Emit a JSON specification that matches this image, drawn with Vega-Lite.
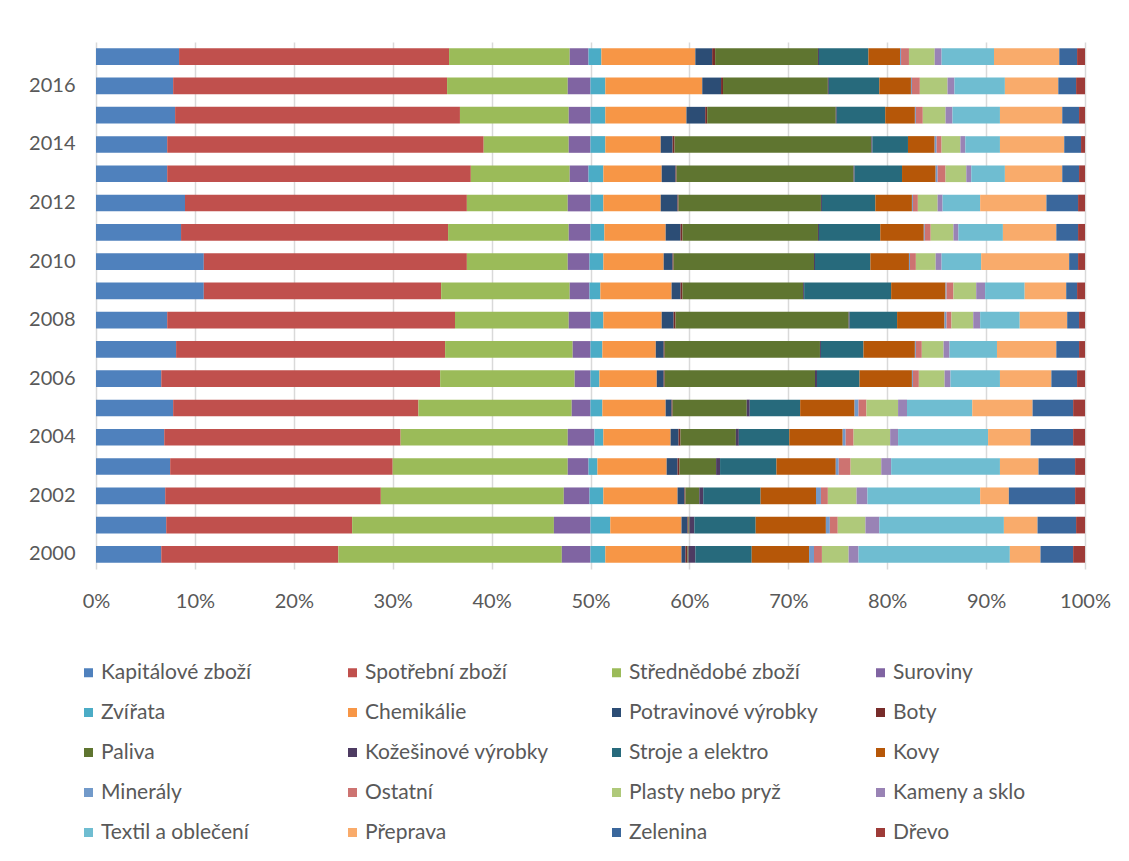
{
  "$schema": "https://vega.github.io/schema/vega-lite/v6.json",
  "width": 989,
  "height": 527,
  "autosize": {"type": "none"},
  "padding": {"left": 96, "top": 42, "right": 44, "bottom": 292},
  "background": "white",
  "config": {
    "font": "Lato",
    "view": {"stroke": null},
    "axis": {"labelColor": "#595959", "labelFont": "Lato", "labelFontSize": 20}
  },
  "data": {
    "values": [
{"y":2000,"c":"Kapitálové zboží","v":6.6},{"y":2000,"c":"Spotřební zboží","v":17.9},{"y":2000,"c":"Střednědobé zboží","v":22.6},{"y":2000,"c":"Suroviny","v":2.9},{"y":2000,"c":"Zvířata","v":1.5},{"y":2000,"c":"Chemikálie","v":7.7},{"y":2000,"c":"Potravinové výrobky","v":0.4},{"y":2000,"c":"Boty","v":0.2},{"y":2000,"c":"Paliva","v":0.1},{"y":2000,"c":"Kožešinové výrobky","v":0.7},{"y":2000,"c":"Stroje a elektro","v":5.7},{"y":2000,"c":"Kovy","v":5.8},{"y":2000,"c":"Minerály","v":0.5},{"y":2000,"c":"Ostatní","v":0.8},{"y":2000,"c":"Plasty nebo pryž","v":2.7},{"y":2000,"c":"Kameny a sklo","v":1.0},{"y":2000,"c":"Textil a oblečení","v":15.3},{"y":2000,"c":"Přeprava","v":3.1},{"y":2000,"c":"Zelenina","v":3.3},{"y":2000,"c":"Dřevo","v":1.2},
{"y":2001,"c":"Kapitálové zboží","v":7.1},{"y":2001,"c":"Spotřební zboží","v":18.8},{"y":2001,"c":"Střednědobé zboží","v":20.4},{"y":2001,"c":"Suroviny","v":3.7},{"y":2001,"c":"Zvířata","v":2.0},{"y":2001,"c":"Chemikálie","v":7.2},{"y":2001,"c":"Potravinové výrobky","v":0.6},{"y":2001,"c":"Boty","v":0.1},{"y":2001,"c":"Paliva","v":0.1},{"y":2001,"c":"Kožešinové výrobky","v":0.5},{"y":2001,"c":"Stroje a elektro","v":6.2},{"y":2001,"c":"Kovy","v":7.1},{"y":2001,"c":"Minerály","v":0.4},{"y":2001,"c":"Ostatní","v":0.8},{"y":2001,"c":"Plasty nebo pryž","v":2.8},{"y":2001,"c":"Kameny a sklo","v":1.4},{"y":2001,"c":"Textil a oblečení","v":12.6},{"y":2001,"c":"Přeprava","v":3.4},{"y":2001,"c":"Zelenina","v":3.9},{"y":2001,"c":"Dřevo","v":0.9},
{"y":2002,"c":"Kapitálové zboží","v":7.0},{"y":2002,"c":"Spotřební zboží","v":21.8},{"y":2002,"c":"Střednědobé zboží","v":18.5},{"y":2002,"c":"Suroviny","v":2.6},{"y":2002,"c":"Zvířata","v":1.4},{"y":2002,"c":"Chemikálie","v":7.5},{"y":2002,"c":"Potravinové výrobky","v":0.7},{"y":2002,"c":"Boty","v":0.1},{"y":2002,"c":"Paliva","v":1.4},{"y":2002,"c":"Kožešinové výrobky","v":0.4},{"y":2002,"c":"Stroje a elektro","v":5.8},{"y":2002,"c":"Kovy","v":5.6},{"y":2002,"c":"Minerály","v":0.5},{"y":2002,"c":"Ostatní","v":0.7},{"y":2002,"c":"Plasty nebo pryž","v":2.9},{"y":2002,"c":"Kameny a sklo","v":1.1},{"y":2002,"c":"Textil a oblečení","v":11.4},{"y":2002,"c":"Přeprava","v":2.9},{"y":2002,"c":"Zelenina","v":6.7},{"y":2002,"c":"Dřevo","v":1.0},
{"y":2003,"c":"Kapitálové zboží","v":7.5},{"y":2003,"c":"Spotřební zboží","v":22.5},{"y":2003,"c":"Střednědobé zboží","v":17.7},{"y":2003,"c":"Suroviny","v":2.1},{"y":2003,"c":"Zvířata","v":0.9},{"y":2003,"c":"Chemikálie","v":7.0},{"y":2003,"c":"Potravinové výrobky","v":1.1},{"y":2003,"c":"Boty","v":0.2},{"y":2003,"c":"Paliva","v":3.7},{"y":2003,"c":"Kožešinové výrobky","v":0.4},{"y":2003,"c":"Stroje a elektro","v":5.7},{"y":2003,"c":"Kovy","v":6.0},{"y":2003,"c":"Minerály","v":0.3},{"y":2003,"c":"Ostatní","v":1.2},{"y":2003,"c":"Plasty nebo pryž","v":3.1},{"y":2003,"c":"Kameny a sklo","v":1.0},{"y":2003,"c":"Textil a oblečení","v":11.0},{"y":2003,"c":"Přeprava","v":3.9},{"y":2003,"c":"Zelenina","v":3.7},{"y":2003,"c":"Dřevo","v":1.0},
{"y":2004,"c":"Kapitálové zboží","v":6.9},{"y":2004,"c":"Spotřební zboží","v":23.9},{"y":2004,"c":"Střednědobé zboží","v":16.9},{"y":2004,"c":"Suroviny","v":2.7},{"y":2004,"c":"Zvířata","v":0.9},{"y":2004,"c":"Chemikálie","v":6.8},{"y":2004,"c":"Potravinové výrobky","v":0.8},{"y":2004,"c":"Boty","v":0.2},{"y":2004,"c":"Paliva","v":5.6},{"y":2004,"c":"Kožešinové výrobky","v":0.3},{"y":2004,"c":"Stroje a elektro","v":5.1},{"y":2004,"c":"Kovy","v":5.4},{"y":2004,"c":"Minerály","v":0.3},{"y":2004,"c":"Ostatní","v":0.8},{"y":2004,"c":"Plasty nebo pryž","v":3.7},{"y":2004,"c":"Kameny a sklo","v":0.8},{"y":2004,"c":"Textil a oblečení","v":9.1},{"y":2004,"c":"Přeprava","v":4.3},{"y":2004,"c":"Zelenina","v":4.3},{"y":2004,"c":"Dřevo","v":1.2},
{"y":2005,"c":"Kapitálové zboží","v":7.8},{"y":2005,"c":"Spotřební zboží","v":24.8},{"y":2005,"c":"Střednědobé zboží","v":15.5},{"y":2005,"c":"Suroviny","v":1.9},{"y":2005,"c":"Zvířata","v":1.2},{"y":2005,"c":"Chemikálie","v":6.4},{"y":2005,"c":"Potravinové výrobky","v":0.6},{"y":2005,"c":"Boty","v":0.1},{"y":2005,"c":"Paliva","v":7.5},{"y":2005,"c":"Kožešinové výrobky","v":0.3},{"y":2005,"c":"Stroje a elektro","v":5.1},{"y":2005,"c":"Kovy","v":5.5},{"y":2005,"c":"Minerály","v":0.4},{"y":2005,"c":"Ostatní","v":0.8},{"y":2005,"c":"Plasty nebo pryž","v":3.2},{"y":2005,"c":"Kameny a sklo","v":0.9},{"y":2005,"c":"Textil a oblečení","v":6.6},{"y":2005,"c":"Přeprava","v":6.1},{"y":2005,"c":"Zelenina","v":4.1},{"y":2005,"c":"Dřevo","v":1.2},
{"y":2006,"c":"Kapitálové zboží","v":6.6},{"y":2006,"c":"Spotřební zboží","v":28.2},{"y":2006,"c":"Střednědobé zboží","v":13.6},{"y":2006,"c":"Suroviny","v":1.6},{"y":2006,"c":"Zvířata","v":0.9},{"y":2006,"c":"Chemikálie","v":5.8},{"y":2006,"c":"Potravinové výrobky","v":0.7},{"y":2006,"c":"Boty","v":0.1},{"y":2006,"c":"Paliva","v":15.2},{"y":2006,"c":"Kožešinové výrobky","v":0.2},{"y":2006,"c":"Stroje a elektro","v":4.3},{"y":2006,"c":"Kovy","v":5.3},{"y":2006,"c":"Minerály","v":0.1},{"y":2006,"c":"Ostatní","v":0.6},{"y":2006,"c":"Plasty nebo pryž","v":2.6},{"y":2006,"c":"Kameny a sklo","v":0.6},{"y":2006,"c":"Textil a oblečení","v":5.0},{"y":2006,"c":"Přeprava","v":5.2},{"y":2006,"c":"Zelenina","v":2.6},{"y":2006,"c":"Dřevo","v":0.8},
{"y":2007,"c":"Kapitálové zboží","v":8.1},{"y":2007,"c":"Spotřební zboží","v":27.2},{"y":2007,"c":"Střednědobé zboží","v":12.9},{"y":2007,"c":"Suroviny","v":1.8},{"y":2007,"c":"Zvířata","v":1.2},{"y":2007,"c":"Chemikálie","v":5.4},{"y":2007,"c":"Potravinové výrobky","v":0.8},{"y":2007,"c":"Boty","v":0.1},{"y":2007,"c":"Paliva","v":15.7},{"y":2007,"c":"Kožešinové výrobky","v":0.1},{"y":2007,"c":"Stroje a elektro","v":4.3},{"y":2007,"c":"Kovy","v":5.2},{"y":2007,"c":"Minerály","v":0.1},{"y":2007,"c":"Ostatní","v":0.6},{"y":2007,"c":"Plasty nebo pryž","v":2.2},{"y":2007,"c":"Kameny a sklo","v":0.6},{"y":2007,"c":"Textil a oblečení","v":4.8},{"y":2007,"c":"Přeprava","v":6.0},{"y":2007,"c":"Zelenina","v":2.3},{"y":2007,"c":"Dřevo","v":0.6},
{"y":2008,"c":"Kapitálové zboží","v":7.2},{"y":2008,"c":"Spotřební zboží","v":29.1},{"y":2008,"c":"Střednědobé zboží","v":11.5},{"y":2008,"c":"Suroviny","v":2.2},{"y":2008,"c":"Zvířata","v":1.3},{"y":2008,"c":"Chemikálie","v":5.9},{"y":2008,"c":"Potravinové výrobky","v":1.2},{"y":2008,"c":"Boty","v":0.2},{"y":2008,"c":"Paliva","v":17.5},{"y":2008,"c":"Kožešinové výrobky","v":0.1},{"y":2008,"c":"Stroje a elektro","v":4.8},{"y":2008,"c":"Kovy","v":4.8},{"y":2008,"c":"Minerály","v":0.2},{"y":2008,"c":"Ostatní","v":0.5},{"y":2008,"c":"Plasty nebo pryž","v":2.2},{"y":2008,"c":"Kameny a sklo","v":0.7},{"y":2008,"c":"Textil a oblečení","v":4.0},{"y":2008,"c":"Přeprava","v":4.8},{"y":2008,"c":"Zelenina","v":1.2},{"y":2008,"c":"Dřevo","v":0.6},
{"y":2009,"c":"Kapitálové zboží","v":10.9},{"y":2009,"c":"Spotřební zboží","v":24.0},{"y":2009,"c":"Střednědobé zboží","v":13.0},{"y":2009,"c":"Suroviny","v":2.0},{"y":2009,"c":"Zvířata","v":1.1},{"y":2009,"c":"Chemikálie","v":7.2},{"y":2009,"c":"Potravinové výrobky","v":0.9},{"y":2009,"c":"Boty","v":0.2},{"y":2009,"c":"Paliva","v":12.2},{"y":2009,"c":"Kožešinové výrobky","v":0.1},{"y":2009,"c":"Stroje a elektro","v":8.8},{"y":2009,"c":"Kovy","v":5.5},{"y":2009,"c":"Minerály","v":0.1},{"y":2009,"c":"Ostatní","v":0.7},{"y":2009,"c":"Plasty nebo pryž","v":2.3},{"y":2009,"c":"Kameny a sklo","v":0.9},{"y":2009,"c":"Textil a oblečení","v":4.0},{"y":2009,"c":"Přeprava","v":4.2},{"y":2009,"c":"Zelenina","v":1.1},{"y":2009,"c":"Dřevo","v":0.8},
{"y":2010,"c":"Kapitálové zboží","v":10.9},{"y":2010,"c":"Spotřební zboží","v":26.6},{"y":2010,"c":"Střednědobé zboží","v":10.2},{"y":2010,"c":"Suroviny","v":2.2},{"y":2010,"c":"Zvířata","v":1.4},{"y":2010,"c":"Chemikálie","v":6.1},{"y":2010,"c":"Potravinové výrobky","v":0.9},{"y":2010,"c":"Boty","v":0.1},{"y":2010,"c":"Paliva","v":14.2},{"y":2010,"c":"Kožešinové výrobky","v":0.1},{"y":2010,"c":"Stroje a elektro","v":5.6},{"y":2010,"c":"Kovy","v":3.9},{"y":2010,"c":"Minerály","v":0.1},{"y":2010,"c":"Ostatní","v":0.6},{"y":2010,"c":"Plasty nebo pryž","v":2.0},{"y":2010,"c":"Kameny a sklo","v":0.6},{"y":2010,"c":"Textil a oblečení","v":4.0},{"y":2010,"c":"Přeprava","v":8.9},{"y":2010,"c":"Zelenina","v":0.9},{"y":2010,"c":"Dřevo","v":0.7},
{"y":2011,"c":"Kapitálové zboží","v":8.6},{"y":2011,"c":"Spotřební zboží","v":27.0},{"y":2011,"c":"Střednědobé zboží","v":12.2},{"y":2011,"c":"Suroviny","v":2.2},{"y":2011,"c":"Zvířata","v":1.4},{"y":2011,"c":"Chemikálie","v":6.2},{"y":2011,"c":"Potravinové výrobky","v":1.5},{"y":2011,"c":"Boty","v":0.2},{"y":2011,"c":"Paliva","v":13.7},{"y":2011,"c":"Kožešinové výrobky","v":0.1},{"y":2011,"c":"Stroje a elektro","v":6.2},{"y":2011,"c":"Kovy","v":4.4},{"y":2011,"c":"Minerály","v":0.1},{"y":2011,"c":"Ostatní","v":0.6},{"y":2011,"c":"Plasty nebo pryž","v":2.3},{"y":2011,"c":"Kameny a sklo","v":0.5},{"y":2011,"c":"Textil a oblečení","v":4.5},{"y":2011,"c":"Přeprava","v":5.4},{"y":2011,"c":"Zelenina","v":2.2},{"y":2011,"c":"Dřevo","v":0.7},
{"y":2012,"c":"Kapitálové zboží","v":9.0},{"y":2012,"c":"Spotřební zboží","v":28.5},{"y":2012,"c":"Střednědobé zboží","v":10.2},{"y":2012,"c":"Suroviny","v":2.3},{"y":2012,"c":"Zvířata","v":1.3},{"y":2012,"c":"Chemikálie","v":5.8},{"y":2012,"c":"Potravinové výrobky","v":1.7},{"y":2012,"c":"Boty","v":0.1},{"y":2012,"c":"Paliva","v":14.4},{"y":2012,"c":"Kožešinové výrobky","v":0.1},{"y":2012,"c":"Stroje a elektro","v":5.4},{"y":2012,"c":"Kovy","v":3.7},{"y":2012,"c":"Minerály","v":0.1},{"y":2012,"c":"Ostatní","v":0.5},{"y":2012,"c":"Plasty nebo pryž","v":2.0},{"y":2012,"c":"Kameny a sklo","v":0.5},{"y":2012,"c":"Textil a oblečení","v":3.8},{"y":2012,"c":"Přeprava","v":6.7},{"y":2012,"c":"Zelenina","v":3.2},{"y":2012,"c":"Dřevo","v":0.7},
{"y":2013,"c":"Kapitálové zboží","v":7.2},{"y":2013,"c":"Spotřební zboží","v":30.7},{"y":2013,"c":"Střednědobé zboží","v":10.0},{"y":2013,"c":"Suroviny","v":1.9},{"y":2013,"c":"Zvířata","v":1.5},{"y":2013,"c":"Chemikálie","v":5.9},{"y":2013,"c":"Potravinové výrobky","v":1.4},{"y":2013,"c":"Boty","v":0.1},{"y":2013,"c":"Paliva","v":17.9},{"y":2013,"c":"Kožešinové výrobky","v":0.1},{"y":2013,"c":"Stroje a elektro","v":4.8},{"y":2013,"c":"Kovy","v":3.4},{"y":2013,"c":"Minerály","v":0.2},{"y":2013,"c":"Ostatní","v":0.8},{"y":2013,"c":"Plasty nebo pryž","v":2.1},{"y":2013,"c":"Kameny a sklo","v":0.5},{"y":2013,"c":"Textil a oblečení","v":3.4},{"y":2013,"c":"Přeprava","v":5.8},{"y":2013,"c":"Zelenina","v":1.7},{"y":2013,"c":"Dřevo","v":0.6},
{"y":2014,"c":"Kapitálové zboží","v":7.2},{"y":2014,"c":"Spotřební zboží","v":32.0},{"y":2014,"c":"Střednědobé zboží","v":8.6},{"y":2014,"c":"Suroviny","v":2.2},{"y":2014,"c":"Zvířata","v":1.5},{"y":2014,"c":"Chemikálie","v":5.6},{"y":2014,"c":"Potravinové výrobky","v":1.2},{"y":2014,"c":"Boty","v":0.2},{"y":2014,"c":"Paliva","v":19.9},{"y":2014,"c":"Kožešinové výrobky","v":0.1},{"y":2014,"c":"Stroje a elektro","v":3.6},{"y":2014,"c":"Kovy","v":2.7},{"y":2014,"c":"Minerály","v":0.2},{"y":2014,"c":"Ostatní","v":0.5},{"y":2014,"c":"Plasty nebo pryž","v":1.9},{"y":2014,"c":"Kameny a sklo","v":0.5},{"y":2014,"c":"Textil a oblečení","v":3.5},{"y":2014,"c":"Přeprava","v":6.5},{"y":2014,"c":"Zelenina","v":1.7},{"y":2014,"c":"Dřevo","v":0.4},
{"y":2015,"c":"Kapitálové zboží","v":8.0},{"y":2015,"c":"Spotřební zboží","v":28.8},{"y":2015,"c":"Střednědobé zboží","v":11.0},{"y":2015,"c":"Suroviny","v":2.2},{"y":2015,"c":"Zvířata","v":1.5},{"y":2015,"c":"Chemikálie","v":8.2},{"y":2015,"c":"Potravinové výrobky","v":1.9},{"y":2015,"c":"Boty","v":0.2},{"y":2015,"c":"Paliva","v":13.0},{"y":2015,"c":"Kožešinové výrobky","v":0.1},{"y":2015,"c":"Stroje a elektro","v":4.9},{"y":2015,"c":"Kovy","v":3.0},{"y":2015,"c":"Minerály","v":0.1},{"y":2015,"c":"Ostatní","v":0.7},{"y":2015,"c":"Plasty nebo pryž","v":2.3},{"y":2015,"c":"Kameny a sklo","v":0.7},{"y":2015,"c":"Textil a oblečení","v":4.8},{"y":2015,"c":"Přeprava","v":6.3},{"y":2015,"c":"Zelenina","v":1.7},{"y":2015,"c":"Dřevo","v":0.6},
{"y":2016,"c":"Kapitálové zboží","v":7.8},{"y":2016,"c":"Spotřební zboží","v":27.7},{"y":2016,"c":"Střednědobé zboží","v":12.2},{"y":2016,"c":"Suroviny","v":2.3},{"y":2016,"c":"Zvířata","v":1.5},{"y":2016,"c":"Chemikálie","v":9.8},{"y":2016,"c":"Potravinové výrobky","v":1.9},{"y":2016,"c":"Boty","v":0.2},{"y":2016,"c":"Paliva","v":10.6},{"y":2016,"c":"Kožešinové výrobky","v":0.1},{"y":2016,"c":"Stroje a elektro","v":5.1},{"y":2016,"c":"Kovy","v":3.2},{"y":2016,"c":"Minerály","v":0.1},{"y":2016,"c":"Ostatní","v":0.8},{"y":2016,"c":"Plasty nebo pryž","v":2.8},{"y":2016,"c":"Kameny a sklo","v":0.7},{"y":2016,"c":"Textil a oblečení","v":5.1},{"y":2016,"c":"Přeprava","v":5.4},{"y":2016,"c":"Zelenina","v":1.8},{"y":2016,"c":"Dřevo","v":0.9},
{"y":2017,"c":"Kapitálové zboží","v":8.4},{"y":2017,"c":"Spotřební zboží","v":27.3},{"y":2017,"c":"Střednědobé zboží","v":12.2},{"y":2017,"c":"Suroviny","v":1.9},{"y":2017,"c":"Zvířata","v":1.3},{"y":2017,"c":"Chemikálie","v":9.5},{"y":2017,"c":"Potravinové výrobky","v":1.7},{"y":2017,"c":"Boty","v":0.3},{"y":2017,"c":"Paliva","v":10.4},{"y":2017,"c":"Kožešinové výrobky","v":0.1},{"y":2017,"c":"Stroje a elektro","v":5.0},{"y":2017,"c":"Kovy","v":3.2},{"y":2017,"c":"Minerály","v":0.1},{"y":2017,"c":"Ostatní","v":0.8},{"y":2017,"c":"Plasty nebo pryž","v":2.6},{"y":2017,"c":"Kameny a sklo","v":0.7},{"y":2017,"c":"Textil a oblečení","v":5.3},{"y":2017,"c":"Přeprava","v":6.6},{"y":2017,"c":"Zelenina","v":1.8},{"y":2017,"c":"Dřevo","v":0.8}
    ]
  },
  "transform": [
    {"calculate": "indexof(['Kapitálové zboží','Spotřební zboží','Střednědobé zboží','Suroviny','Zvířata','Chemikálie','Potravinové výrobky','Boty','Paliva','Kožešinové výrobky','Stroje a elektro','Kovy','Minerály','Ostatní','Plasty nebo pryž','Kameny a sklo','Textil a oblečení','Přeprava','Zelenina','Dřevo'], datum.c)", "as": "poradi"}
  ],
  "mark": {"type": "bar"},
  "encoding": {
    "y": {
      "field": "y", "type": "ordinal", "sort": "descending",
      "scale": {"paddingInner": 0.43, "paddingOuter": 0.215},
      "axis": {"title": null, "ticks": false, "domain": false, "labelPadding": 21,
               "labelExpr": "datum.value % 2 == 0 ? datum.value : ''"}
    },
    "x": {
      "field": "v", "type": "quantitative", "stack": "zero",
      "scale": {"domain": [0, 100], "nice": false},
      "axis": {"title": null, "values": [0,10,20,30,40,50,60,70,80,90,100], "labelExpr": "datum.value + '%'",
               "ticks": false, "domain": false, "grid": true, "gridColor": "#D9D9D9", "gridWidth": 1.5,
               "labelPadding": 22, "labelFlush": false}
    },
    "order": {"field": "poradi", "type": "quantitative", "sort": "ascending"},
    "color": {
      "field": "c", "type": "nominal",
      "scale": {
        "domain": ["Kapitálové zboží","Spotřební zboží","Střednědobé zboží","Suroviny","Zvířata","Chemikálie","Potravinové výrobky","Boty","Paliva","Kožešinové výrobky","Stroje a elektro","Kovy","Minerály","Ostatní","Plasty nebo pryž","Kameny a sklo","Textil a oblečení","Přeprava","Zelenina","Dřevo"],
        "range": ["#4F81BD","#C0504D","#9BBB59","#8064A2","#4BACC6","#F79646","#2C4D75","#772C2A","#5F7530","#4D3B62","#276A7C","#B65708","#729ACA","#CD7371","#AFC97A","#9983B5","#6FBDD1","#F9AB6B","#3A679C","#9E3B38"]
      },
      "legend": {
        "title": null, "orient": "none", "legendX": -18, "legendY": 620, "direction": "horizontal",
        "columns": 4, "gridAlign": "all", "columnPadding": 51, "rowPadding": 18,
        "symbolType": "square", "symbolSize": 81, "symbolStrokeWidth": 0, "labelOffset": 2,
        "labelFont": "Lato", "labelFontSize": 21, "labelColor": "#595959", "labelLimit": 300
      }
    }
  }
}
